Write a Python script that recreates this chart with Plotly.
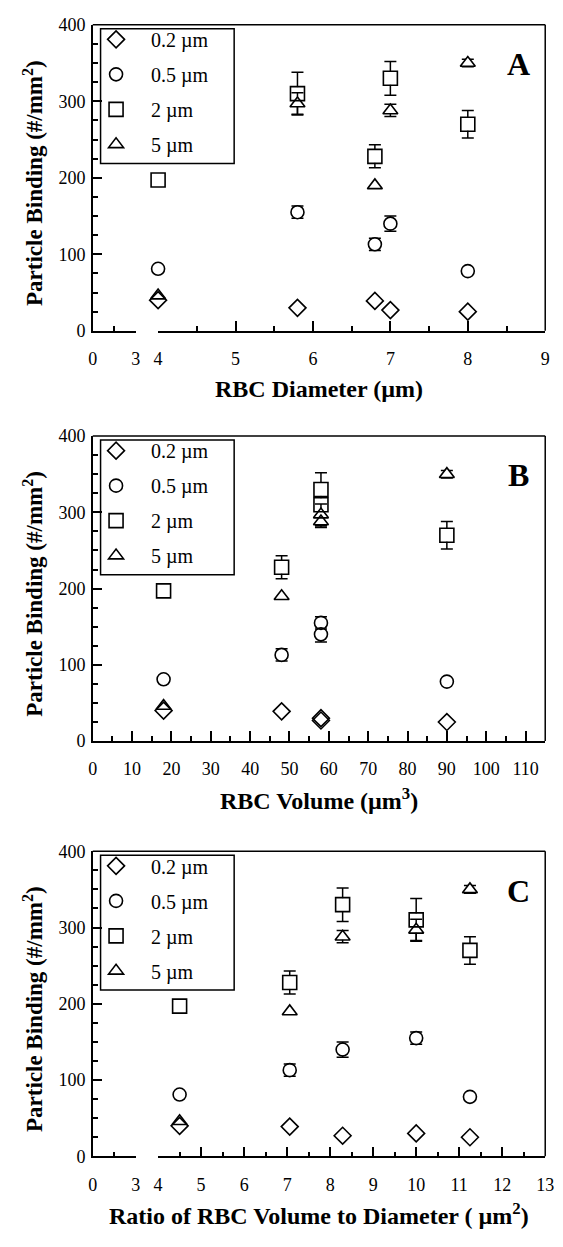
import plotly.graph_objects as go

# ---------------- data ----------------
rbc_diameter = [4.0, 5.8, 6.8, 7.0, 8.0]          # µm
rbc_volume = [18, 58, 48, 58, 90]                 # µm^3
rbc_ratio = [4.5, 10.0, 7.06, 8.29, 11.25]        # µm^2

series_names = ["0.2 µm", "0.5 µm", "2 µm", "5 µm"]
bind_02 = [40, 30, 39, 27, 25]
bind_05 = [81, 155, 113, 140, 78]
bind_2 = [197, 310, 228, 330, 270]
bind_5 = [46, 297, 190, 288, 350]
err_02 = [None, None, None, None, None]
err_05 = [None, 8, 8, 10, None]
err_2 = [6, 28, 15, 22, 18]
err_5 = [None, 14, None, 8, 5]

symbols = ["diamond", "circle", "square", "triangle-up"]
sizes = [13, 13, 14, 13]

values = [bind_02, bind_05, bind_2, bind_5]
errors = [err_02, err_05, err_2, err_5]

FONT = "Liberation Serif, Times New Roman, Times, serif"
W, H = 563, 1247
XL0, XL1, XR0, XR1 = 90 / W, 134 / W, 157 / W, 554 / W
YA = [1 - 326 / H, 1 - 15 / H]
YB = [1 - 743 / H, 1 - 433 / H]
YC = [1 - 1165 / H, 1 - 855 / H]

fig = go.Figure()

# empty traces so that the short left axis segments (0..3) exist
fig.add_trace(go.Scatter(x=[], y=[], xaxis="x", yaxis="y", showlegend=False))
fig.add_trace(go.Scatter(x=[], y=[], xaxis="x4", yaxis="y3", showlegend=False))

panels = [
    (rbc_diameter, "x2", "y", "legend"),
    (rbc_volume, "x3", "y2", "legend2"),
    (rbc_ratio, "x5", "y3", "legend3"),
]

# error-bar traces first (white-filled markers hide the bar inside the symbol)
for xs, xr, yr, lg in panels:
    for name, sym, sz, ys, es in zip(series_names, symbols, sizes, values, errors):
        px = [x for x, e in zip(xs, es) if e is not None]
        py = [y for y, e in zip(ys, es) if e is not None]
        pe = [e for e in es if e is not None]
        if not px:
            continue
        fig.add_trace(go.Scatter(
            x=px, y=py, mode="markers", xaxis=xr, yaxis=yr, showlegend=False,
            cliponaxis=False,
            marker=dict(symbol=sym, size=sz - 1, color="white", line=dict(width=0)),
            error_y=dict(type="data", array=pe, visible=True, color="black",
                         thickness=1.5, width=6),
            hoverinfo="skip"))

# marker traces
for xs, xr, yr, lg in panels:
    for name, sym, sz, ys in zip(series_names, symbols, sizes, values):
        fig.add_trace(go.Scatter(
            x=xs, y=ys, mode="markers", xaxis=xr, yaxis=yr, name=name,
            legend=lg, legendgroup=lg + name, cliponaxis=False,
            marker=dict(symbol=sym + "-open", size=sz, color="black",
                        line=dict(width=1.6, color="black"))))

tickfont = dict(family=FONT, size=18, color="black")


def xaxis(domain, rng, anchor, tickvals=None, dtick=None, minor_vals=None, minor_dtick=None):
    ax = dict(domain=domain, range=rng, anchor=anchor, showline=True, linecolor="black",
              linewidth=1.5, ticks="inside", ticklen=10, tickwidth=1.5, tickcolor="black",
              showgrid=False, zeroline=False, tickfont=tickfont, ticklabelstandoff=11,
              fixedrange=True)
    if tickvals is not None:
        ax.update(tickmode="array", tickvals=tickvals, ticktext=[str(v) for v in tickvals])
    else:
        ax.update(tick0=0, dtick=dtick)
    minor = dict(ticks="inside", ticklen=5, tickwidth=1.5, tickcolor="black", showgrid=False)
    if minor_vals is not None:
        minor.update(tickvals=minor_vals)
    else:
        minor.update(dtick=minor_dtick)
    ax["minor"] = minor
    return ax


def yaxis(domain, anchor):
    return dict(domain=domain, range=[0, 400], anchor=anchor, showline=True,
                linecolor="black", linewidth=1.5, ticks="inside", ticklen=9,
                tickwidth=1.5, tickcolor="black", dtick=100, tick0=0,
                showgrid=False, zeroline=False, tickfont=tickfont, ticklabelstandoff=2,
                minor=dict(ticks="inside", ticklen=5, tickwidth=1.5, tickcolor="black",
                           dtick=25, showgrid=False),
                fixedrange=True)


layout = dict(
    width=W, height=H, margin=dict(l=0, r=0, t=0, b=0),
    paper_bgcolor="white", plot_bgcolor="white",
    font=dict(family=FONT, color="black"),
    xaxis=xaxis([XL0, XL1], [0, 3], "y", tickvals=[0, 3], minor_vals=[1.5]),
    xaxis2=xaxis([XR0, XR1], [4, 9], "y", dtick=1, minor_dtick=0.5),
    xaxis3=xaxis([XL0, XR1], [0, 115], "y2", dtick=10, minor_dtick=5),
    xaxis4=xaxis([XL0, XL1], [0, 3], "y3", tickvals=[0, 3], minor_vals=[1.5]),
    xaxis5=xaxis([XR0, XR1], [4, 13], "y3", dtick=1, minor_dtick=0.5),
    yaxis=yaxis(YA, "x"),
    yaxis2=yaxis(YB, "x3"),
    yaxis3=yaxis(YC, "x4"),
    showlegend=True,
)

legend_style = dict(
    bgcolor="rgba(0,0,0,0)", borderwidth=0,
    font=dict(family=FONT, size=20, color="black"),
    xanchor="left", yanchor="top", itemwidth=60, traceorder="grouped",
    tracegroupgap=6, itemclick=False, itemdoubleclick=False,
)
for key, dom in (("legend", YA), ("legend2", YB), ("legend3", YC)):
    layout[key] = dict(legend_style, x=78 / W, y=dom[1] + 5 / H)

fig.update_layout(**layout)

shapes = []
annotations = []
titles = ["RBC Diameter (µm)", "RBC Volume (µm<sup>3</sup>)",
          "Ratio of RBC Volume to Diameter ( µm<sup>2</sup>)"]
letters = ["A", "B", "C"]
for dom, title, letter in zip((YA, YB, YC), titles, letters):
    # top and right frame lines
    shapes.append(dict(type="line", xref="paper", yref="paper", x0=XL0, x1=XR1,
                       y0=dom[1], y1=dom[1], line=dict(color="black", width=1.5)))
    shapes.append(dict(type="line", xref="paper", yref="paper", x0=XR1, x1=XR1,
                       y0=dom[0], y1=dom[1], line=dict(color="black", width=1.5)))
    # legend frame
    shapes.append(dict(type="rect", xref="paper", yref="paper", x0=98 / W, x1=235 / W,
                       y0=dom[1] - 141 / H, y1=dom[1] - 4 / H,
                       line=dict(color="black", width=1.5)))
    annotations.append(dict(text="<b>" + title + "</b>", xref="paper", yref="paper",
                            x=(XL0 + XR1) / 2, y=dom[0] - 59 / H, xanchor="center",
                            yanchor="middle", showarrow=False,
                            font=dict(family=FONT, size=24, color="black")))
    annotations.append(dict(text="<b>Particle Binding (#/mm<sup>2</sup>)</b>",
                            xref="paper", yref="paper", x=29 / W, y=(dom[0] + dom[1]) / 2 - 5 / H,
                            xanchor="center", yanchor="middle", textangle=-90,
                            showarrow=False,
                            font=dict(family=FONT, size=23, color="black")))
    annotations.append(dict(text="<b>" + letter + "</b>", xref="paper", yref="paper",
                            x=527 / W, y=dom[1] - 40 / H, xanchor="center",
                            yanchor="middle", showarrow=False,
                            font=dict(family=FONT, size=32, color="black")))

fig.update_layout(shapes=shapes, annotations=annotations)
fig.write_html("out.html", config={"displayModeBar": False},
               post_script="document.body.style.margin='0';"
                           "document.body.style.overflow='hidden';")
